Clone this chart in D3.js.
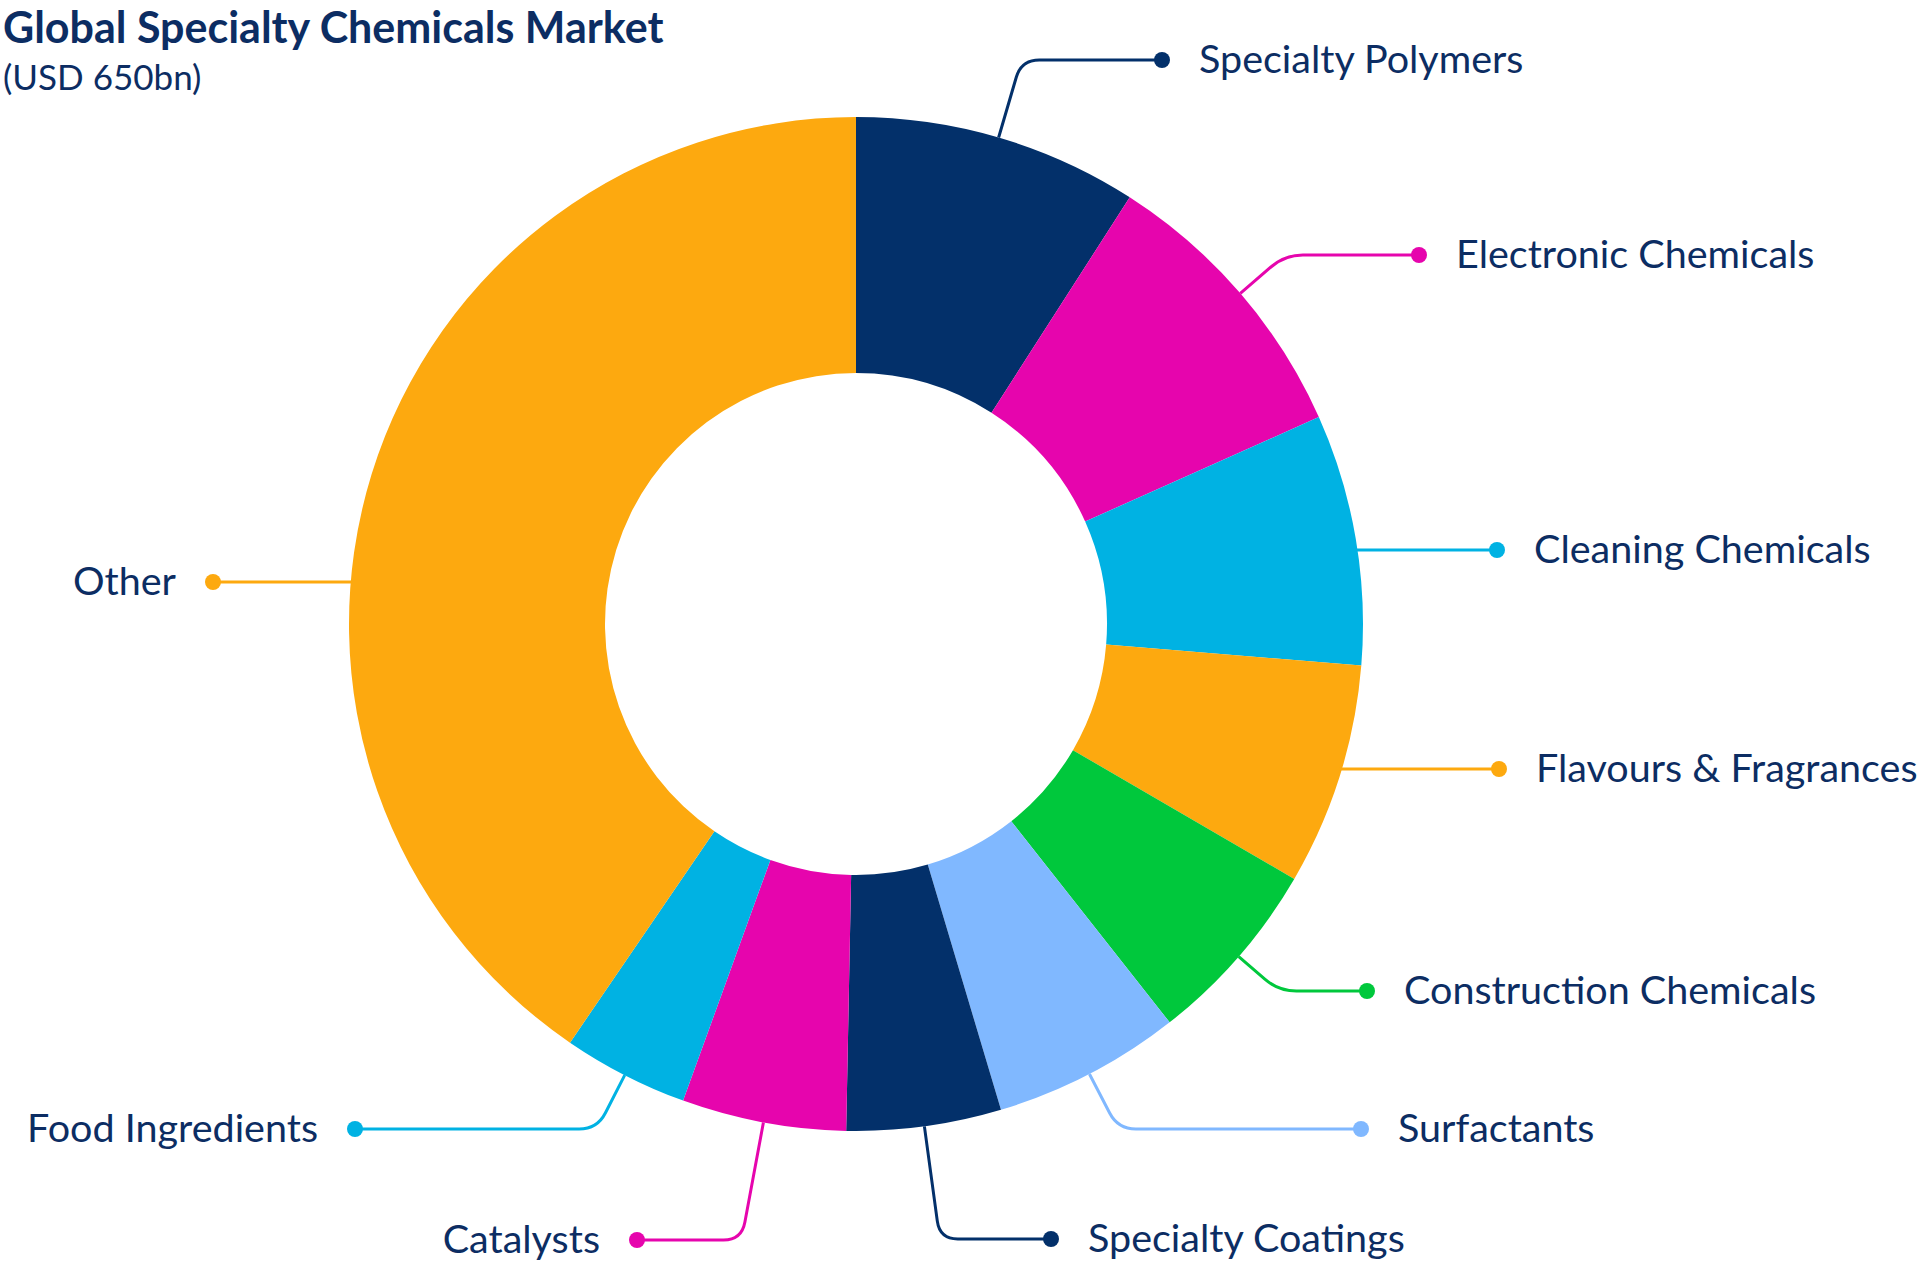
<!DOCTYPE html>
<html>
<head>
<meta charset="utf-8">
<script src="https://cdn.jsdelivr.net/npm/d3@7"></script>
<style>
  html, body { margin: 0; padding: 0; background: #ffffff; }
  svg { display: block; }
  text { font-family: Lato, "Noto Sans", sans-serif; fill: #0c2d63; }
</style>
</head>
<body>
<svg id="chart" width="1920" height="1264"></svg>
<script>
// ---- Dados (USD bn, total 650)
const categories = [
  'Specialty Polymers', 'Electronic Chemicals', 'Cleaning Chemicals',
  'Flavours & Fragrances', 'Construction Chemicals', 'Surfactants',
  'Specialty Coatings', 'Catalysts', 'Food Ingredients', 'Other'
];
const values = [59, 60, 52, 46, 39, 39, 32, 34, 26, 263];
const colors = [
  '#03306a', '#e605ad', '#00b2e3', '#fda90f', '#00c83c',
  '#80b8ff', '#03306a', '#e605ad', '#00b2e3', '#fda90f'
];

// ---- Layout dos rótulos (posição do ponto)
const labelDots = [
  [1162, 60], [1419, 255], [1497, 550], [1499, 769], [1367, 991],
  [1361, 1129], [1051, 1239], [637, 1240], [355, 1129], [213, 582]
];

const svg = d3.select('#chart');
const cx = 856, cy = 624;
const outerR = 507, innerR = 251;

// ---- Título
svg.append('text')
  .attr('x', 3).attr('y', 43)
  .style('font-size', '43px').style('font-weight', 700)
  .text('Global Specialty Chemicals Market');
svg.append('text')
  .attr('x', 3).attr('y', 90)
  .style('font-size', '35px')
  .text('(USD 650bn)');

// ---- Donut
const pie = d3.pie().sort(null).value(d => d.value);
const arc = d3.arc().innerRadius(innerR).outerRadius(outerR);
const data = categories.map((c, i) => ({ name: c, value: values[i], color: colors[i], dot: labelDots[i] }));
const arcs = pie(data);

const g = svg.append('g').attr('transform', `translate(${cx}, ${cy})`);
g.selectAll('path.slice')
  .data(arcs)
  .join('path')
  .attr('class', 'slice')
  .attr('d', arc)
  .attr('fill', d => d.data.color);

// ---- Linhas de chamada
const cornerR = 18;
function leader(d) {
  const a = (d.startAngle + d.endAngle) / 2;
  const [dx, dy] = d.data.dot;
  const ty = dy - cy;
  const sx = Math.sin(a), sy = -Math.cos(a);
  // raio radial até a altura do ponto, depois horizontal
  if (Math.abs(sy) > 0.3 && ty / sy > outerR + cornerR) {
    const rho = ty / sy;
    const x0 = sx * outerR, y0 = sy * outerR;
    const x1 = sx * rho, y1 = ty;
    const dir = Math.sign(dx - cx - x1);
    return `M${x0},${y0} L${x1 - sx * cornerR},${y1 - sy * cornerR} Q${x1},${y1} ${x1 + dir * cornerR},${y1} L${dx - cx},${ty}`;
  }
  // linha horizontal a partir da borda do anel
  const side = Math.sign(dx - cx);
  const x0 = side * Math.sqrt(outerR * outerR - ty * ty) - side * 2;
  return `M${x0},${ty} L${dx - cx},${ty}`;
}

g.selectAll('path.leader')
  .data(arcs)
  .join('path')
  .attr('class', 'leader')
  .attr('d', leader)
  .attr('fill', 'none')
  .attr('stroke', d => d.data.color)
  .attr('stroke-width', 3);

g.selectAll('circle.dot')
  .data(arcs)
  .join('circle')
  .attr('class', 'dot')
  .attr('cx', d => d.data.dot[0] - cx)
  .attr('cy', d => d.data.dot[1] - cy)
  .attr('r', 8)
  .attr('fill', d => d.data.color);

g.selectAll('text.label')
  .data(arcs)
  .join('text')
  .attr('class', 'label')
  .attr('x', d => d.data.dot[0] - cx + (d.data.dot[0] > cx ? 37 : -37))
  .attr('y', d => d.data.dot[1] - cy)
  .attr('dy', '0.33em')
  .attr('text-anchor', d => d.data.dot[0] > cx ? 'start' : 'end')
  .style('font-size', '39.5px')
  .text(d => d.data.name);
</script>
</body>
</html>
